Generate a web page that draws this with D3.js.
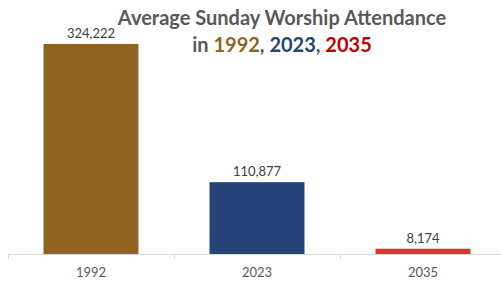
<!DOCTYPE html>
<html>
<head>
<meta charset="utf-8">
<script src="https://cdn.jsdelivr.net/npm/d3@7"></script>
<style>
  body { margin: 0; background: #fff; }
  svg { display: block; font-family: Lato, "Open Sans", sans-serif; }
</style>
</head>
<body>
<div id="chart"></div>
<script>
const years = ["1992", "2023", "2035"];
const attendance = [324222, 110877, 8174];
const barColors = ["#8e6420", "#264478", "#d9362b"];
const titleColors = ["#8e6420", "#264478", "#c00000"];

const width = 501, height = 282;
const axisY = 254;

const svg = d3.select("#chart").append("svg")
    .attr("width", width)
    .attr("height", height);

const x = d3.scaleBand()
    .domain(years)
    .range([8, 506])
    .paddingInner(0.428)
    .paddingOuter(0.214);

const y = d3.scaleLinear()
    .domain([0, 350000])
    .range([axisY, axisY - 210 * 350000 / 324222]);

// bars
svg.selectAll(".bar")
    .data(years)
    .enter().append("rect")
    .attr("class", "bar")
    .attr("x", d => x(d))
    .attr("width", x.bandwidth())
    .attr("y", (d, i) => y(attendance[i]))
    .attr("height", (d, i) => axisY - y(attendance[i]))
    .attr("fill", (d, i) => barColors[i]);

// x axis
svg.append("line")
    .attr("x1", 8).attr("x2", 501)
    .attr("y1", axisY + 0.5).attr("y2", axisY + 0.5)
    .attr("stroke", "#d9d9d9");

const step = x.step();
svg.selectAll(".tick")
    .data(d3.range(years.length + 1))
    .enter().append("line")
    .attr("class", "tick")
    .attr("x1", i => Math.round(8 + i * step) + 0.5)
    .attr("x2", i => Math.round(8 + i * step) + 0.5)
    .attr("y1", axisY)
    .attr("y2", axisY + 5)
    .attr("stroke", "#d9d9d9");

svg.selectAll(".xlabel")
    .data(years)
    .enter().append("text")
    .attr("class", "xlabel")
    .attr("x", d => x(d) + x.bandwidth() / 2)
    .attr("y", 277)
    .attr("text-anchor", "middle")
    .attr("font-size", 13)
    .attr("fill", "#595959")
    .text(d => d);

// value labels
svg.selectAll(".value")
    .data(years)
    .enter().append("text")
    .attr("class", "value")
    .attr("x", d => x(d) + x.bandwidth() / 2)
    .attr("y", (d, i) => y(attendance[i]) - 6)
    .attr("text-anchor", "middle")
    .attr("font-size", 13)
    .attr("fill", "#404040")
    .text((d, i) => d3.format(",")(attendance[i]));

// title
const title = svg.append("text")
    .attr("text-anchor", "middle")
    .attr("font-size", 20)
    .attr("font-weight", "bold")
    .attr("fill", "#595959");
title.append("tspan")
    .attr("x", 282).attr("y", 25)
    .text("Average Sunday Worship Attendance");
const line2 = title.append("tspan").attr("x", 282).attr("y", 52);
line2.append("tspan").text("in ");
years.forEach((yr, i) => {
    line2.append("tspan").attr("fill", titleColors[i]).text(yr);
    if (i < years.length - 1) line2.append("tspan").text(", ");
});
</script>
</body>
</html>
